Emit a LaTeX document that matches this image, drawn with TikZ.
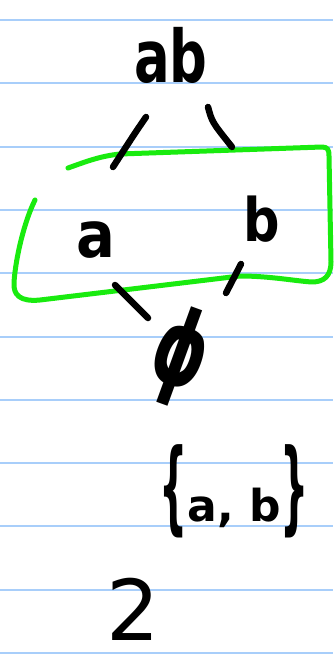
\documentclass[tikz,border=0pt]{standalone}
\usepackage{fontspec}
\usepackage{graphicx}
\setmainfont{DejaVu Sans}
\definecolor{ruled}{RGB}{168,206,250}
\definecolor{hlgreen}{RGB}{25,235,15}
\tikzset{
  ruleline/.style={draw=ruled, line width=2pt},
  edge/.style={draw=black, line width=6.5pt, line cap=round},
  gbox/.style={draw=hlgreen, line width=5pt, line cap=round, line join=round},
  hand/.style={inner sep=0pt, outer sep=0pt, text=black}
}
\begin{document}
\begin{tikzpicture}[x=1pt,y=-1pt]
\useasboundingbox (0,0) rectangle (333,663);
\fill[white] (0,0) rectangle (333,663);
% ruled lines
\foreach \k in {0,...,10} {
  \draw[ruleline] (0,{20+63.3*\k}) -- (333,{20+63.3*\k});
}
% green highlight box
\draw[gbox] (68,168) .. controls (85,162) and (100,156) .. (120,154) -- (322,147)
  .. controls (328,147) and (329,150) .. (329,156) -- (331,262)
  .. controls (331,276) and (324,282) .. (312,282)
  .. controls (295,281) and (270,276) .. (240,276)
  -- (40,300) .. controls (20,302) and (13,295) .. (14,282)
  .. controls (16,255) and (25,220) .. (35,200);
% texts
\node[hand, anchor=base] (ab) at (171,83) {\fontsize{66}{70}\selectfont\bfseries\scalebox{0.8}[1.1]{ab}};
\node[hand, anchor=base] (a) at (96,257) {\fontsize{64}{70}\selectfont\bfseries\scalebox{0.9}[1]{a}};
\node[hand, anchor=base] (b) at (262,241) {\fontsize{60}{66}\selectfont\bfseries\scalebox{0.85}[1]{b}};
\node[hand, rotate=-20] (e) at (180,357) {\fontsize{105}{110}\selectfont\bfseries\scalebox{0.65}[1]{ϕ}};
\node[hand, anchor=base] (set) at (234,521) {\fontsize{44}{50}\selectfont\bfseries\scalebox{0.9}[2.3]{\{}a, b\scalebox{0.9}[2.3]{\}}};
\node[hand, anchor=base] (two) at (133,640) {\fontsize{84}{88}\selectfont 2};
% connectors
\coordinate (c1s) at (146,117);
\coordinate (c1e) at (113,167);
\coordinate (c2s) at (208,107);
\coordinate (c2e) at (232,147);
\coordinate (c3s) at (115,285);
\coordinate (c3e) at (148,318);
\coordinate (c4s) at (241,264);
\coordinate (c4e) at (226,293);
\draw[edge] (c1s) .. controls (135,133) .. (c1e);
\draw[edge] (c2s) .. controls (212,122) .. (c2e);
\draw[edge] (c3s) -- (c3e);
\draw[edge] (c4s) -- (c4e);
\end{tikzpicture}
\end{document}
